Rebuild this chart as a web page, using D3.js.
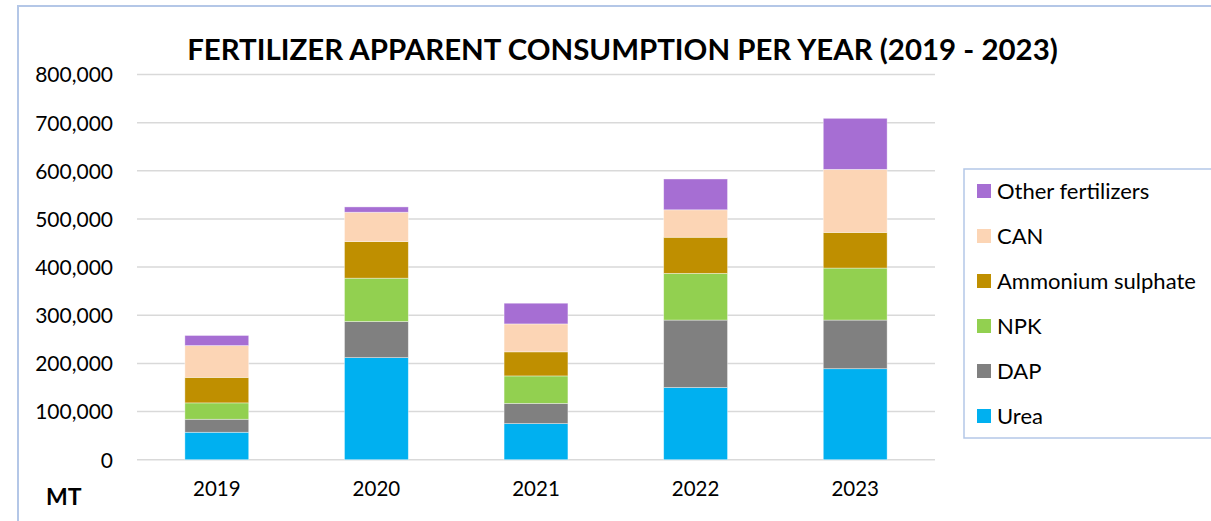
<!DOCTYPE html>
<html>
<head>
<meta charset="utf-8">
<script src="https://cdn.jsdelivr.net/npm/d3@7"></script>
<style>
  html, body { margin: 0; padding: 0; background: #fff; }
  svg { display: block; }
  text { font-family: Lato, "Open Sans", sans-serif; fill: #000; }
</style>
</head>
<body>
<svg id="chart" width="1211" height="521"></svg>
<script>
const years = ["2019", "2020", "2021", "2022", "2023"];
const seriesNames = ["Urea", "DAP", "NPK", "Ammonium sulphate", "CAN", "Other fertilizers"];
const urea   = [57000, 212000, 75000, 150000, 189000];
const dap    = [27000, 75000, 42000, 140000, 101000];
const npk    = [34000, 90000, 57000, 97000, 108000];
const amSulf = [53000, 76000, 50000, 75000, 74000];
const can    = [66000, 61000, 58000, 57000, 131000];
const other  = [21000, 11000, 43000, 64000, 106000];
const yTicks = [0, 100000, 200000, 300000, 400000, 500000, 600000, 700000, 800000];
const colors = ["#00B0F0", "#808080", "#92D050", "#BF8F00", "#FCD5B5", "#A66ED3"];

const seriesValues = [urea, dap, npk, amSulf, can, other];
const rows = years.map((y, i) => {
  const r = { year: y };
  seriesNames.forEach((s, k) => r[s] = seriesValues[k][i]);
  return r;
});

const svg = d3.select("#chart");
const plot = { left: 137, right: 935, top: 74.5, bottom: 459.7 };

// outer frame
svg.append("rect").attr("x", 18).attr("y", 6).attr("width", 1220).attr("height", 530)
  .attr("fill", "none").attr("stroke", "#B4C7E7").attr("stroke-width", 2);

const x = d3.scaleBand().domain(years).range([plot.left, plot.right])
  .paddingInner(0.6).paddingOuter(0.3);
const y = d3.scaleLinear().domain([0, 800000]).range([plot.bottom, plot.top]);

// gridlines
svg.append("g").selectAll("line").data(yTicks).join("line")
  .attr("x1", plot.left).attr("x2", plot.right)
  .attr("y1", d => y(d)).attr("y2", d => y(d))
  .attr("stroke", "#D9D9D9").attr("stroke-width", 1.5);

// y axis labels
const yAxis = d3.axisLeft(y).tickValues(yTicks).tickSize(0).tickPadding(0)
  .tickFormat(d => d3.format(",")(d));
const ya = svg.append("g").attr("transform", `translate(113,0)`).call(yAxis);
ya.select(".domain").remove();
ya.selectAll("text").attr("font-size", 21).attr("font-family", "Lato").attr("fill", "#000")
  .attr("dy", "0.35em");

// x axis labels
const xAxis = d3.axisBottom(x).tickSize(0).tickPadding(0);
const xa = svg.append("g").attr("transform", `translate(0,${plot.bottom + 22})`).call(xAxis);
xa.select(".domain").remove();
xa.selectAll("text").attr("font-size", 20.5).attr("font-family", "Lato").attr("fill", "#000")
  .attr("dy", "0.71em");

// stacked bars
const stack = d3.stack().keys(seriesNames);
const stacked = stack(rows);
const color = d3.scaleOrdinal().domain(seriesNames).range(colors);

svg.append("g").selectAll("g").data(stacked).join("g")
  .attr("fill", d => color(d.key))
  .selectAll("rect").data(d => d).join("rect")
  .attr("x", d => x(d.data.year))
  .attr("width", x.bandwidth())
  .attr("y", d => y(d[1]))
  .attr("height", d => y(d[0]) - y(d[1]))
  .attr("stroke", "#ffffff").attr("stroke-opacity", 0.5).attr("stroke-width", 0.75);

// title
const title = svg.append("text")
  .attr("x", (187 + 1058) / 2).attr("y", 60)
  .attr("text-anchor", "middle")
  .attr("font-weight", "bold").attr("font-size", 29)
  .text("FERTILIZER APPARENT CONSUMPTION PER YEAR (2019 - 2023)");
const tw = title.node().getComputedTextLength();
title.attr("font-size", 29 * 871 / tw);

// MT label
svg.append("text").attr("x", 46).attr("y", 505).attr("font-weight", "bold")
  .attr("font-size", 23).text("MT");

// legend
const legend = svg.append("g");
legend.append("rect").attr("x", 964).attr("y", 169).attr("width", 300).attr("height", 269)
  .attr("fill", "#fff").attr("stroke", "#B4C7E7").attr("stroke-width", 1.5);
const legendOrder = seriesNames.slice().reverse();
const li = legend.selectAll("g.item").data(legendOrder).join("g").attr("class", "item")
  .attr("transform", (d, i) => `translate(977,${191 + i * 45})`);
li.append("rect").attr("x", 0).attr("y", -7).attr("width", 14).attr("height", 14)
  .attr("fill", d => color(d));
li.append("text").attr("x", 20).attr("y", 0).attr("dy", "0.35em")
  .attr("font-size", 22).text(d => d);
</script>
</body>
</html>
